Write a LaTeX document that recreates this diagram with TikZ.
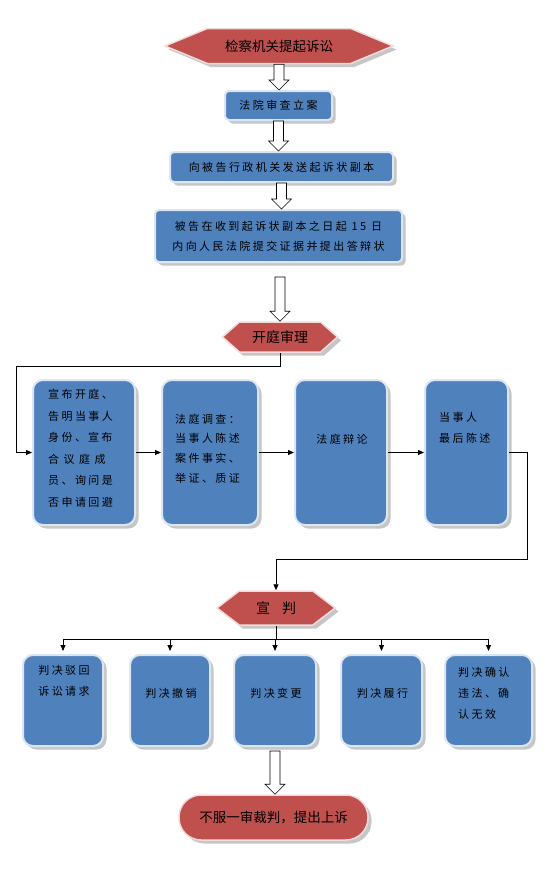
\documentclass[tikz,border=0pt]{standalone}
\usepackage{fontspec}
\setmainfont{Noto Sans CJK SC}
\newfontfamily\cjk{Noto Sans CJK SC}
\newfontfamily\cjkw[LetterSpace=22]{Noto Sans CJK SC}
\usetikzlibrary{shapes.symbols,shadows,arrows.meta,calc}
\definecolor{boxblue}{HTML}{4F81BD}
\definecolor{boxred}{HTML}{C0504D}
\definecolor{glowblue}{HTML}{DCE6F2}
\definecolor{glowred}{HTML}{F2DCDB}
\tikzset{
  shd/.style={drop shadow={shadow xshift=3.5pt,shadow yshift=-3.5pt,fill=gray!45,opacity=1}},
  bluebox/.style={shape=rectangle, fill=boxblue, draw=glowblue, line width=2pt,
    rounded corners=#1, shd, inner sep=0pt, text=black, align=center,
    font=\cjkw\fontsize{11}{20}\selectfont},
  bluebox/.default=4pt,
  hexa/.style={shape=signal, signal to=west and east, signal pointer angle=#1,
    fill=boxred, draw=glowred, line width=1.5pt, shd, inner sep=0pt, text=black,
    font=\cjk\fontsize{14}{16}\selectfont},
  lbl/.style={inner sep=0pt, text=black, align=left, font=\cjkw\fontsize{11}{21}\selectfont},
  clbl/.style={lbl, align=center},
  conn/.style={line width=0.8pt, -{Triangle[length=6pt,width=5pt]}},
  plain/.style={line width=0.8pt}
}
\newcommand\hollowarrow[2]{%
  \draw[fill=white,line width=0.6pt] let \p1=(#1), \p2=(#2) in
  (\x1-5pt,\y1) -- (\x1+5pt,\y1) -- (\x1+5pt,\y2+10pt) -- (\x1+10pt,\y2+10pt)
  -- (\x1,\y2) -- (\x1-10pt,\y2+10pt) -- (\x1-5pt,\y2+10pt) -- cycle;}
\begin{document}
\begin{tikzpicture}[x=1pt,y=-1pt]
\fill[white] (0,0) rectangle (556,881);
\useasboundingbox (0,0) rectangle (556,881);

% top chain
\node[hexa=45, minimum width=228pt, minimum height=35pt, font=\cjk\fontsize{13.5}{16}\selectfont] (h1) at (279,46) {检察机关提起诉讼};
\node[bluebox, minimum width=107pt, minimum height=29pt] (bA) at (278.5,105.5) {法院审查立案};
\node[bluebox, minimum width=223pt, minimum height=30pt] (bB) at (281.5,167) {向被告行政机关发送起诉状副本};
\node[bluebox, minimum width=247pt, minimum height=52pt] (bC) at (278.5,236) {被告在收到起诉状副本之日起 15 日\\内向人民法院提交证据并提出答辩状};
\node[hexa=83, minimum width=115pt, minimum height=30pt] (h2) at (280,337) {开庭审理};

\hollowarrow{h1.south}{bA.north}
\hollowarrow{bA.south}{bB.north}
\hollowarrow{bB.south}{bC.north}
\coordinate (a4) at ($(bC.south)+(1.5,14)$);
\hollowarrow{a4}{h2.north}

% trial row
\node[bluebox=10pt, minimum width=102pt, minimum height=145pt] (r1) at (84,452.5) {};
\node[bluebox=10pt, minimum width=96pt, minimum height=145pt] (r2) at (210,452.5) {};
\node[bluebox=10pt, minimum width=92pt, minimum height=145pt] (r3) at (341,452.5) {};
\node[bluebox=10pt, minimum width=83pt, minimum height=145pt] (r4) at (466.5,452.5) {};

\node[lbl, anchor=north west, font=\cjkw\fontsize{11}{21.6}\selectfont] (t1) at (48,389)
  {宣布开庭、\\告明当事人\\身份、\hspace{2pt}宣布\\合\hspace{4.5pt}议\hspace{4.5pt}庭\hspace{4.5pt}成\\员、询问是\\否申请回避};
\node[lbl, anchor=north west, font=\cjkw\fontsize{11}{19.7}\selectfont] (t2) at (175,413.5)
  {法庭调查：\\当事人陈述\\案件事实、\\举证、质证};
\node[lbl] (t3) at (342,439) {法庭辩论};
\node[lbl, anchor=north west] (t4) at (439,412.5) {当事人\\最后陈述};

\coordinate (c1) at (16,366);
\coordinate (c2) at (527,559);
\draw[conn] (h2.south) |- (c1) |- (r1.west);
\draw[conn] (r1.east) -- (r2.west);
\draw[conn] (r2.east) -- (r3.west);
\draw[conn] (r3.east) -- (r4.west);

% verdict
\node[hexa=75, minimum width=118pt, minimum height=34pt] (h3) at (276,608) {宣\hspace{12pt}判};
\draw[conn] (r4.east) -| (c2) -| (h3.north);

\node[bluebox=10pt, minimum width=80pt, minimum height=91pt] (d1) at (63,700.5) {};
\node[bluebox=10pt, minimum width=80pt, minimum height=91pt] (d2) at (170,700.5) {};
\node[bluebox=10pt, minimum width=82pt, minimum height=91pt] (d3) at (275,700.5) {};
\node[bluebox=10pt, minimum width=81pt, minimum height=91pt] (d4) at (381.5,700.5) {};
\node[bluebox=10pt, minimum width=87pt, minimum height=91pt] (d5) at (488.5,700.5) {};

\node[clbl, anchor=north] (u1) at (64,665.5) {判决驳回\\诉讼请求};
\node[lbl] (u2) at (171,693) {判决撤销};
\node[lbl] (u3) at (276,693) {判决变更};
\node[lbl] (u4) at (382.5,693) {判决履行};
\node[lbl, anchor=north west] (u5) at (458,667.5) {判决确认\\违法、\hspace{2pt}确\\认无效};

\coordinate (c3) at (276,639);
\draw[plain] (h3.south) -- (c3);
\draw[plain] (c3 -| d1.north) -- (c3 -| d5.north);
\foreach \d in {d1,d2,d3,d4,d5}
  \draw[conn, shorten >=3pt] (c3 -| \d.north) -- (\d.north);

% appeal
\node[shape=rectangle, fill=boxred, draw=glowred, line width=1.5pt, rounded corners=22pt, shd,
  minimum width=189pt, minimum height=45pt, inner sep=0pt, text=black,
  font=\cjk\fontsize{13.5}{16}\selectfont] (f) at (273.5,817.5) {不服一审裁判，提出上诉};
\coordinate (a5) at ($(d3.south)+(0,4)$);
\hollowarrow{a5}{f.north}
\end{tikzpicture}
\end{document}
